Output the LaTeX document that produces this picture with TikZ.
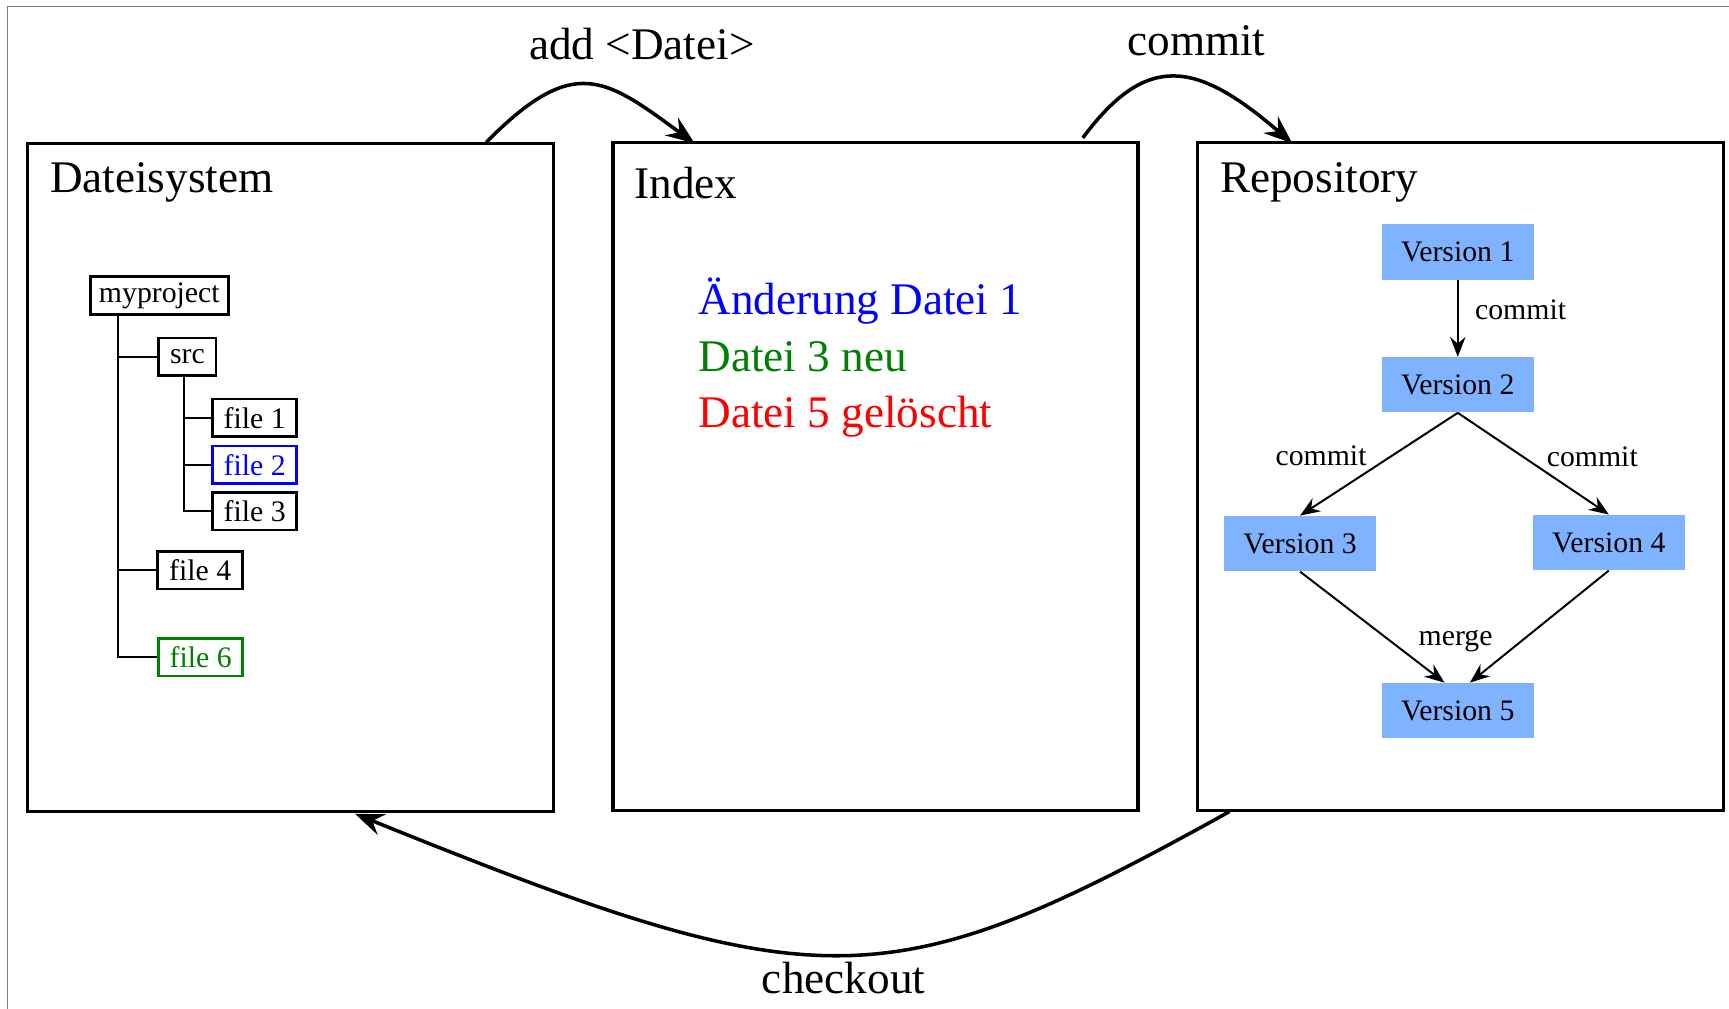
\documentclass[tikz,border=0pt]{standalone}
\usepackage{fontspec}
\setmainfont{Liberation Serif}
\usetikzlibrary{arrows.meta}
\definecolor{verfill}{RGB}{128,179,255}
\definecolor{dgreen}{RGB}{0,128,0}
\begin{document}
\begin{tikzpicture}[x=0.5pt,y=-0.5pt,
  bigbox/.style={draw,line width=1.5pt},
  bigfont/.style={font=\fontsize{20.5}{24}\selectfont},
  smallfont/.style={font=\fontsize{13.5}{16}\selectfont},
  treebox/.style={draw,line width=1.2pt,inner sep=0pt,minimum height=17pt,smallfont},
  treeline/.style={line width=0.75pt},
  version/.style={fill=verfill,inner sep=0pt,minimum width=69pt,minimum height=25pt,smallfont},
  varrow/.style={line width=0.9pt,-{Stealth[length=9pt,width=7pt,inset=3pt]}},
  bigarrow/.style={line width=1.6pt,-{Stealth[length=13pt,width=10pt,inset=4.5pt]}},
  lbl/.style={smallfont,inner sep=0pt}
]
\useasboundingbox (0,0) rectangle (1568,915);
\draw[gray,line width=0.6pt] (7,915) -- (7,6) -- (1568,6);

% main boxes
\node[bigbox,inner sep=0pt,minimum width=238.5pt,minimum height=303pt] (fs) at (263.5,433) {};
\node[bigbox,inner sep=0pt,minimum width=238pt,minimum height=303pt] (idx) at (794,432) {};
\node[bigbox,inner sep=0pt,minimum width=238.5pt,minimum height=303pt] (repo) at (1324.5,432) {};

\node[bigfont,anchor=base west,inner sep=0pt] (tfs) at (45,175) {Dateisystem};
\node[bigfont,anchor=base west,inner sep=0pt] (tidx) at (575,180) {Index};
\node[bigfont,anchor=base west,inner sep=0pt] (trepo) at (1106,175) {Repository};

% tree
\node[treebox,minimum width=62.5pt] (myproject) at (144.5,268) {myproject};
\node[treebox,minimum width=26pt] (src) at (170,323.5) {src};
\node[treebox,minimum width=38pt] (f1) at (231,379) {file 1};
\node[treebox,minimum width=38pt,draw=blue,text=blue] (f2) at (231,421.5) {file 2};
\node[treebox,minimum width=38pt] (f3) at (231,463.5) {file 3};
\node[treebox,minimum width=38.5pt] (f4) at (181.5,517) {file 4};
\node[treebox,minimum width=38pt,draw=dgreen,text=dgreen] (f6) at (182,596) {file 6};

\coordinate (ta) at (107,0);
\coordinate (tb) at (167,0);
\draw[treeline] (ta |- myproject.south) -- (ta |- f6) -- (f6.west);
\draw[treeline] (ta |- src) -- (src.west);
\draw[treeline] (ta |- f4) -- (f4.west);
\draw[treeline] (tb |- src.south) -- (tb |- f3) -- (f3.west);
\draw[treeline] (tb |- f1) -- (f1.west);
\draw[treeline] (tb |- f2) -- (f2.west);

% index text
\node[bigfont,anchor=base west,inner sep=0pt,text=blue] (c1) at (633,285) {Änderung Datei 1};
\node[bigfont,anchor=base west,inner sep=0pt,text=dgreen] (c2) at (633,337) {Datei 3 neu};
\node[bigfont,anchor=base west,inner sep=0pt,text=red] (c3) at (633,388) {Datei 5 gelöscht};

% versions
\node[version] (v1) at (1322,228.5) {Version 1};
\node[version] (v2) at (1322,349) {Version 2};
\node[version] (v3) at (1179,493) {Version 3};
\node[version] (v4) at (1459,492) {Version 4};
\node[version] (v5) at (1322,644.5) {Version 5};

\draw[varrow] (v1.south) -- (v2.north);
\draw[varrow] (v2.south) -- (v3.north);
\draw[varrow] (v2.south) -- (v4.north);
\draw[varrow] (v3.south) -- ([xshift=-6pt]v5.north);
\draw[varrow] (v4.south) -- ([xshift=5.5pt]v5.north);

\node[lbl] (l1) at (1379,281) {commit};
\node[lbl] (l2) at (1198,413) {commit};
\node[lbl] (l3) at (1444,414) {commit};
\node[lbl] (l4) at (1320,581) {merge};

% big arrows
\coordinate (a0) at (441,129);
\coordinate (a1) at (630,130);
\draw[bigarrow] (a0) .. controls (521,48) and (549,71) .. (a1);
\node[bigfont,inner sep=0pt] (ladd) at (582,40) {add <Datei>};

\coordinate (b0) at (982,125);
\coordinate (b1) at (1172,130);
\draw[bigarrow] (b0) .. controls (1040,47) and (1085,55) .. (b1);
\node[bigfont,inner sep=0pt] (lcommit) at (1085,37) {commit};

\coordinate (k0) at (1115,736);
\coordinate (k1) at (322,738);
\draw[bigarrow] (k0) .. controls (803,909) and (745,909) .. (k1);
\node[bigfont,inner sep=0pt] (lcheckout) at (765,887) {checkout};
\end{tikzpicture}
\end{document}
